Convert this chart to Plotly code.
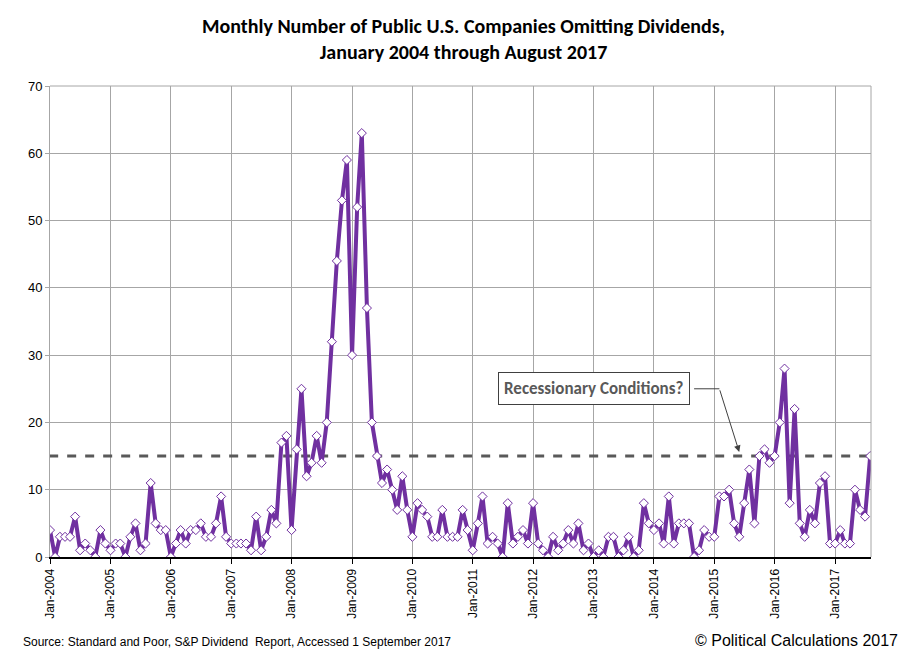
import pandas as pd
import plotly.graph_objects as go

months = pd.date_range("2004-01-01", "2017-08-01", freq="MS")

omissions = [
    4, 0, 3, 3, 3, 6, 1, 2, 1, 0, 4, 2,        # 2004
    1, 2, 2, 0, 3, 5, 1, 2, 11, 5, 4, 4,       # 2005
    0, 2, 4, 2, 4, 4, 5, 3, 3, 5, 9, 3,        # 2006
    2, 2, 2, 2, 1, 6, 1, 3, 7, 5, 17, 18,      # 2007
    4, 16, 25, 12, 14, 18, 14, 20, 32, 44, 53, 59,  # 2008
    30, 52, 63, 37, 20, 15, 11, 13, 10, 7, 12, 7,   # 2009
    3, 8, 7, 6, 3, 3, 7, 3, 3, 3, 7, 4,        # 2010
    1, 5, 9, 2, 3, 2, 0, 8, 2, 3, 4, 2,        # 2011
    8, 2, 1, 0, 3, 1, 2, 4, 2, 5, 1, 2,        # 2012
    0, 1, 0, 3, 3, 0, 1, 3, 0, 1, 8, 5,        # 2013
    4, 5, 2, 9, 2, 5, 5, 5, 0, 1, 4, 3,        # 2014
    3, 9, 9, 10, 5, 3, 8, 13, 5, 15, 16, 14,   # 2015
    15, 20, 28, 8, 22, 5, 3, 7, 5, 11, 12, 2,  # 2016
    2, 4, 2, 2, 10, 7, 6, 15,                  # 2017
]
threshold = 15
tick_dates = pd.date_range("2004-01-01", "2017-01-01", freq="YS")

fig = go.Figure()
fig.add_trace(go.Scatter(
    x=[months[0] - pd.Timedelta(days=5), months[-1] + pd.Timedelta(days=5)],
    y=[threshold, threshold], mode="lines",
    line=dict(color="#595959", width=3, dash="dash"), hoverinfo="skip"))
fig.add_trace(go.Scatter(
    x=months, y=omissions, mode="lines+markers",
    line=dict(color="#7030A0", width=4),
    marker=dict(symbol="diamond", size=7, color="white",
                line=dict(color="#7030A0", width=1))))

# callout: box, short leader, then arrow down to the threshold line
fig.add_shape(type="line", x0=pd.Timestamp("2014-09-01"), x1=pd.Timestamp("2015-02-01"),
              y0=25, y1=25, line=dict(color="#404040", width=1))
fig.add_annotation(
    x=pd.Timestamp("2015-06-01"), y=15.6, ax=pd.Timestamp("2015-02-01"), ay=25,
    axref="x", ayref="y", text="", showarrow=True,
    arrowhead=2, arrowsize=1.3, arrowwidth=1, arrowcolor="#404040")
fig.add_annotation(
    x=pd.Timestamp("2013-01-01"), y=25, text="<b>Recessionary Conditions?</b>", showarrow=False,
    font=dict(size=17, color="#595959", family="Calibri, Carlito, Lato, sans-serif"),
    bgcolor="white", bordercolor="#404040", borderwidth=1, borderpad=5)

fig.update_layout(
    width=911, height=662, showlegend=False,
    paper_bgcolor="white", plot_bgcolor="white",
    margin=dict(l=42, r=48, t=78, b=113),
    title=dict(text="<b>Monthly Number of Public U.S. Companies Omitting Dividends,<br>January 2004 through August 2017</b>",
               x=0.5, y=0.962, xanchor="center",
               font=dict(size=20, color="black", family="Calibri, Carlito, Lato, sans-serif")),
    xaxis=dict(range=[months[0], months[-1] + pd.Timedelta(days=5)],
               tickvals=tick_dates, tickformat="%b-%Y", tickangle=-90,
               showgrid=True, gridcolor="#A6A6A6", gridwidth=1,
               showline=True, linecolor="black", linewidth=2,
               ticks="outside", ticklen=5, tickcolor="black",
               tickfont=dict(size=12, family="Arial", color="black")),
    yaxis=dict(range=[0, 70], dtick=10, showgrid=True, gridcolor="#A6A6A6",
               showline=True, linecolor="#A6A6A6", zeroline=False,
               ticks="outside", ticklen=4, tickcolor="#A6A6A6",
               tickfont=dict(size=13, family="Arial", color="black")),
)
fig.add_shape(type="line", xref="paper", yref="paper", x0=1, x1=1, y0=0, y1=1,
              line=dict(color="#A6A6A6", width=1))
fig.add_shape(type="line", xref="paper", yref="paper", x0=0, x1=1, y0=1, y1=1,
              line=dict(color="#A6A6A6", width=1))
fig.add_annotation(xref="paper", yref="paper", x=-0.035, y=-0.2, xanchor="left",
                   text="Source: Standard and Poor, S&P Dividend  Report, Accessed 1 September 2017",
                   showarrow=False, font=dict(size=12, family="Arial", color="black"))
fig.add_annotation(xref="paper", yref="paper", x=1.035, y=-0.2, xanchor="right",
                   text="© Political Calculations 2017",
                   showarrow=False, font=dict(size=16, family="Arial", color="black"))

fig.write_html("out.html")
